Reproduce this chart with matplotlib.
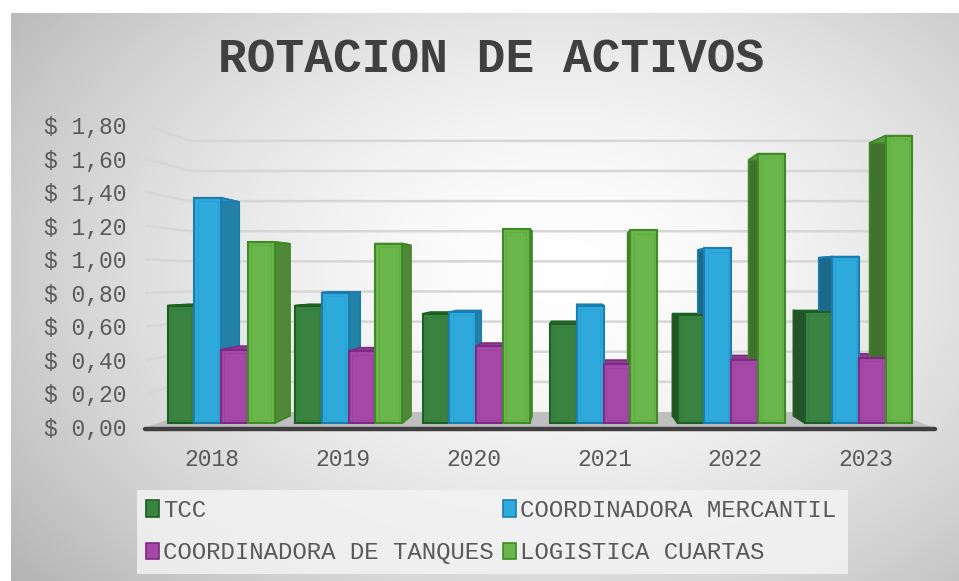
import numpy as np
import matplotlib
matplotlib.use("Agg")
import matplotlib.pyplot as plt
from matplotlib.patches import Polygon, Patch, Rectangle
from matplotlib.colors import to_rgb

# ---------------- datos ----------------
years = ["2018", "2019", "2020", "2021", "2022", "2023"]
tcc = [0.72, 0.72, 0.67, 0.61, 0.66, 0.68]
coord_mercantil = [1.38, 0.80, 0.68, 0.72, 1.07, 1.02]
coord_tanques = [0.45, 0.44, 0.47, 0.36, 0.39, 0.40]
logistica_cuartas = [1.11, 1.10, 1.19, 1.18, 1.65, 1.76]
series_names = ["TCC", "COORDINADORA MERCANTIL", "COORDINADORA DE TANQUES", "LOGISTICA CUARTAS"]
y_ticks = [0.0, 0.2, 0.4, 0.6, 0.8, 1.0, 1.2, 1.4, 1.6, 1.8]

# colores (cara frontal, borde)
face_cols = ["#3a8442", "#2eaadd", "#a548a8", "#69b74a"]
edge_cols = ["#1d5e22", "#1a7db0", "#7d2a84", "#3f8a26"]

FONT = "Liberation Mono"

# ---------------- perspectiva "3D" ----------------
IV, VV = 2.775, 0.883      # punto de fuga (en unidades de datos)
S_WALL = 0.8986            # pared del fondo
S_F, S_B = 0.975, 0.925    # frente / fondo de las barras
BAR_W = 0.21


def proj(x, v, s):
    return (IV + s * (x - IV), VV + s * (v - VV))


def shade(c, f):
    r, g, b = to_rgb(c)
    return (r * f, g * f, b * f)


W, H = 959, 581
fig = plt.figure(figsize=(W / 100, H / 100), dpi=100)

# fondo con degradado radial
bg = fig.add_axes([0, 0, 1, 1], zorder=0)
yy, xx = np.mgrid[0:H, 0:W]
r = np.sqrt(((xx - 560) / 620.0) ** 2 + ((yy - 270) / 430.0) ** 2)
val = 1.0 - 0.24 * np.clip(r, 0, 1.2) ** 1.6
img = np.dstack([val, val, val])
img[:13, :, :] = 1.0
img[:, :11, :] = 1.0
bg.imshow(img, extent=(0, W, H, 0), aspect="auto", interpolation="bilinear")
bg.set_xlim(0, W)
bg.set_ylim(H, 0)
bg.axis("off")

# caja clara de la leyenda
bg.add_patch(Rectangle((137, 490), 711, 84, facecolor="#f3f3f3", edgecolor="none", alpha=0.85))

fig.text(491 / W, 1 - 60 / H, "ROTACION DE ACTIVOS", family=FONT, fontsize=34.5,
         fontweight="bold", color="#404040", ha="center", va="center")

ax = fig.add_axes([146.6 / W, (H - 427) / H, 784.8 / W, 301.7 / H], zorder=1)
ax.set_facecolor("none")
ax.set_xlim(-0.5, 5.5)
ax.set_ylim(0, 1.8)
for sp in ax.spines.values():
    sp.set_visible(False)

x = np.arange(len(years))
ax.set_xticks(x)
ax.set_xticklabels(years)
ax.set_yticks(y_ticks)
ax.set_yticklabels(["$ " + f"{v:.2f}".replace(".", ",") for v in y_ticks])
ax.tick_params(length=0, labelsize=16.6, labelcolor="#595959")
ax.tick_params(axis="y", pad=14.8)
ax.tick_params(axis="x", pad=15)
for lab in ax.get_xticklabels() + ax.get_yticklabels():
    lab.set_family(FONT)

x0, x1 = -0.5, 5.5
# suelo
floor = [proj(x0, 0, 1), proj(x1, 0, 1), proj(x1, 0, S_WALL), proj(x0, 0, S_WALL)]
ax.add_patch(Polygon(floor, closed=True, facecolor="#bfbfbf", edgecolor="none", zorder=1, clip_on=False))
ax.plot([x0 - 0.01, x1 + 0.03], [-0.012, -0.012], color="#3f3f3f", lw=3.2,
        solid_capstyle="round", zorder=2, clip_on=False)

# lineas de division en la pared del fondo
for v in y_ticks[1:]:
    a = proj(x0, v, 1)
    b = proj(x0, v, S_WALL)
    c = proj(x1, v, S_WALL)
    ax.plot([a[0], b[0], c[0]], [a[1], b[1], c[1]], color="#d6d6d6", lw=1.8, zorder=1, clip_on=False)

# barras
all_series = [tcc, coord_mercantil, coord_tanques, logistica_cuartas]
offsets = (np.arange(4) - 1.5) * BAR_W
for k, vals in enumerate(all_series):
    for i, h in enumerate(vals):
        bx0 = x[i] + offsets[k] - BAR_W / 2
        bx1 = bx0 + BAR_W
        fc, ec = face_cols[k], edge_cols[k]
        # caras laterales
        if bx0 > IV:
            side = [proj(bx0, 0, S_F), proj(bx0, h, S_F), proj(bx0, h, S_B), proj(bx0, 0, S_B)]
            ax.add_patch(Polygon(side, closed=True, facecolor=shade(fc, 0.62), edgecolor=ec,
                                 lw=1.2, zorder=3, clip_on=False))
        elif bx1 < IV:
            side = [proj(bx1, 0, S_F), proj(bx1, h, S_F), proj(bx1, h, S_B), proj(bx1, 0, S_B)]
            ax.add_patch(Polygon(side, closed=True, facecolor=shade(fc, 0.75), edgecolor=ec,
                                 lw=1.2, zorder=3, clip_on=False))
        top = [proj(bx0, h, S_F), proj(bx1, h, S_F), proj(bx1, h, S_B), proj(bx0, h, S_B)]
        ax.add_patch(Polygon(top, closed=True, facecolor=shade(fc, 0.85), edgecolor=ec,
                             lw=1.2, zorder=3, clip_on=False))

for k, vals in enumerate(all_series):
    for i, h in enumerate(vals):
        bx0 = x[i] + offsets[k] - BAR_W / 2
        bx1 = bx0 + BAR_W
        fc, ec = face_cols[k], edge_cols[k]
        front = [proj(bx0, 0, S_F), proj(bx1, 0, S_F), proj(bx1, h, S_F), proj(bx0, h, S_F)]
        ax.add_patch(Polygon(front, closed=True, facecolor=fc, edgecolor=ec, lw=1.5,
                             zorder=4, clip_on=False))
        # bisel interior
        ix0, ix1 = bx0 + BAR_W * 0.12, bx1 - BAR_W * 0.12
        inner = [proj(ix0, 0.02, S_F), proj(ix1, 0.02, S_F), proj(ix1, h - 0.02, S_F), proj(ix0, h - 0.02, S_F)]
        ax.add_patch(Polygon(inner, closed=True, facecolor="none", edgecolor=shade(fc, 0.9),
                             lw=0.8, alpha=0.6, zorder=5, clip_on=False))

# leyenda por filas (matplotlib llena por columnas)
order = [0, 2, 1, 3]
handles = [Patch(facecolor=face_cols[k], edgecolor=edge_cols[k], lw=1.2) for k in order]
labels = [series_names[k] for k in order]
leg = fig.legend(handles, labels, loc="upper left", bbox_to_anchor=(139 / W, 1 - 492 / H),
                 ncol=2, frameon=False, prop={"family": FONT, "size": 17.3},
                 handlelength=0.55, handleheight=0.7, handletextpad=0.15, columnspacing=0.4,
                 labelspacing=0.8, borderpad=0.3, borderaxespad=0)
for t in leg.get_texts():
    t.set_color("#595959")

fig.savefig("out.png", dpi=100)
